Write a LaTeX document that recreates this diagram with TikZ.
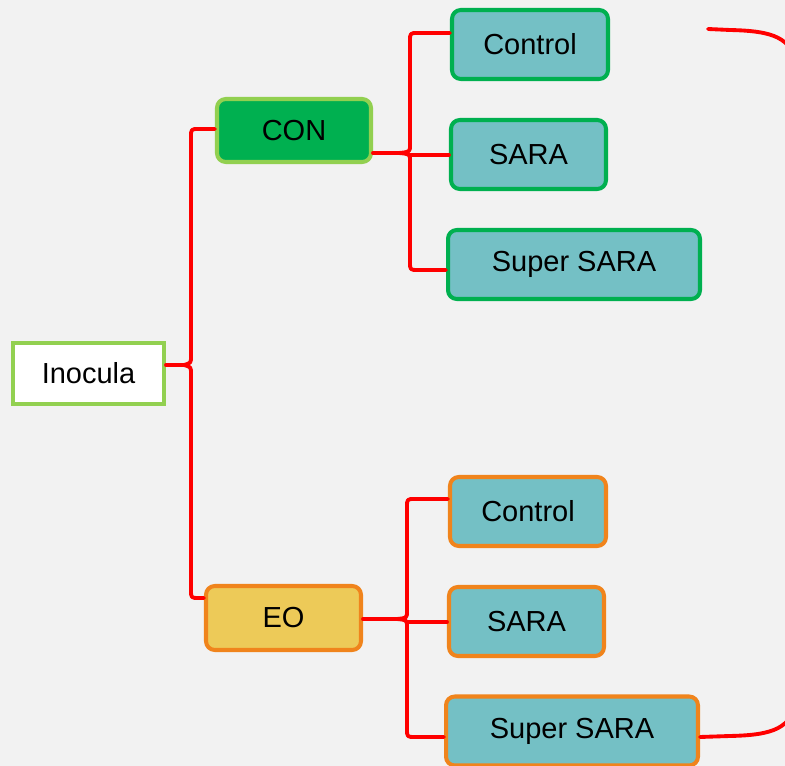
\documentclass[tikz,border=0pt]{standalone}
\usepackage{fontspec}
\setmainfont{Liberation Sans}
\definecolor{bgray}{HTML}{F2F2F2}
\definecolor{lgreen}{HTML}{92D050}
\definecolor{dgreen}{HTML}{00B050}
\definecolor{eoyellow}{HTML}{EDCA58}
\definecolor{eoorange}{HTML}{F0841C}
\definecolor{teal}{HTML}{74C0C5}
\begin{document}
\begin{tikzpicture}[x=0.02cm,y=-0.02cm,
        box/.style={draw, line width=2.3pt, rounded corners=5pt, inner sep=0pt,
            font=\fontsize{16.5}{19}\selectfont},
        conleaf/.style={box, fill=teal, draw=dgreen, minimum height=1.38cm},
        eoleaf/.style={box, fill=teal, draw=eoorange, minimum height=1.38cm},
        link/.style={red, line width=2.2pt, line cap=round, line join=round}]
            \fill[bgray] (0,0) rectangle (785,766);
            \useasboundingbox (0,0) rectangle (785,766);
            % nodes
            \node[box, rounded corners=0pt, fill=white, draw=lgreen, minimum width=3.02cm, minimum height=1.22cm] (inocula) at (88.5,373.5) {Inocula};
            \node[box, fill=dgreen, draw=lgreen, minimum width=3.08cm, minimum height=1.26cm] (con) at (294,130.5) {CON};
            \node[box, fill=eoyellow, draw=eoorange, minimum width=3.1cm, minimum height=1.28cm] (eo) at (283.5,618) {EO};
            \node[conleaf, minimum width=3.12cm] (conctrl) at (530,44.5) {Control};
            \node[conleaf, minimum width=3.1cm] (consara) at (528.5,154.5) {SARA};
            \node[conleaf, minimum width=5.04cm] (consuper) at (574,264.5) {Super SARA};
            \node[eoleaf, minimum width=3.12cm] (eoctrl) at (528,511.5) {Control};
            \node[eoleaf, minimum width=3.1cm] (eosara) at (526.5,621.5) {SARA};
            \node[eoleaf, minimum width=5.04cm] (eosuper) at (572,731) {Super SARA};
            % braces
            \coordinate (tipa) at (184,365);
            \coordinate (tipb) at (399,153);
            \coordinate (tipc) at (397,619);
            \coordinate (mida) at (410,155);
            \coordinate (midb) at (407,622);
            \coordinate (rtop) at (708,29);
            \draw[link] (con.west |- 0,129) -- (199,129) .. controls (191,129) .. (191,137)
                -- (191,356) .. controls (191,363) .. (tipa) .. controls (191,367) .. (191,374)
                -- (191,590) .. controls (191,598) .. (199,598) -- (eo.west |- 0,598);
            \draw[link] (inocula.east |- tipa) -- (tipa);
            \draw[link] (conctrl.west |- 0,33) -- (418,33) .. controls (410,33) .. (410,41)
                -- (410,145) .. controls (410,152) .. (tipb) .. controls (410,154) .. (410,161)
                -- (410,262) .. controls (410,270) .. (418,270) -- (consuper.west |- 0,270);
            \draw[link] (con.east |- tipb) -- (tipb);
            \draw[link] (mida) -- (consara.west |- mida);
            \draw[link] (eoctrl.west |- 0,499) -- (415,499) .. controls (407,499) .. (407,507)
                -- (407,611) .. controls (407,618) .. (tipc) .. controls (407,620) .. (407,627)
                -- (407,729) .. controls (407,737) .. (415,737) -- (eosuper.west |- 0,737);
            \draw[link] (eo.east |- tipc) -- (tipc);
            \draw[link] (midb) -- (eosara.west |- midb);
            \begin{scope}
                \clip (0,0) rectangle (785,766);
                \draw[link] (rtop) -- (730,30) .. controls (775,31) and (790,38) .. (798,65)
                    -- (798,700) .. controls (790,728) and (775,735) .. (730,736) -- (eosuper.east |- 0,737);
            \end{scope}
        \end{tikzpicture}
\end{document}
